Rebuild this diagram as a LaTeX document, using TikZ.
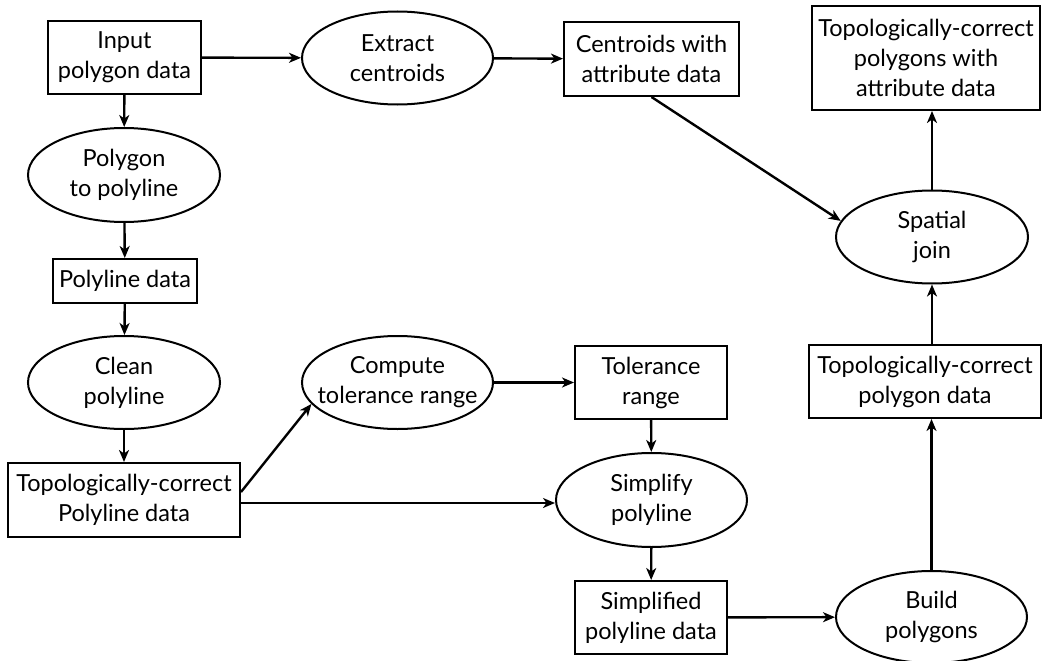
\documentclass[tikz,border=0pt]{standalone}
\usepackage{fontspec}
\setmainfont{Lato}
\usetikzlibrary{arrows.meta,shapes.geometric}

\begin{document}
\begin{tikzpicture}[x=1pt,y=-1pt,
  every node/.style={font=\fontsize{23.5}{30}\selectfont, align=center, inner sep=0pt},
  databox/.style={draw, line width=2pt, rectangle},
  process/.style={draw, line width=2pt, ellipse, inner xsep=-30pt, inner ysep=-20pt},
  flow/.style={line width=2.4pt, -{Stealth[length=12pt,width=10pt,inset=3.5pt]}}
]
\useasboundingbox (0,0) rectangle (1042,661);

% data sets
\node[databox, minimum width=153pt, minimum height=73pt] (in)  at (124.5,57.5) {Input\\polygon data};
\node[databox, minimum width=175pt, minimum height=74pt] (cen) at (651.5,59) {Centroids with\\attribute data};
\node[databox, minimum width=228pt, minimum height=104pt] (tr) at (926,58) {Topologically-correct\\polygons with\\attribute data};
\node[databox, minimum width=144pt, minimum height=44pt] (pl)  at (125,281) {Polyline data};
\node[databox, minimum width=232pt, minimum height=74pt] (tpl) at (124,500) {Topologically-correct\\Polyline data};
\node[databox, minimum width=152pt, minimum height=73pt] (tol) at (651,382.5) {Tolerance\\range};
\node[databox, minimum width=152pt, minimum height=73pt] (spd) at (651,617.5) {Simplified\\polyline data};
\node[databox, minimum width=232pt, minimum height=73pt] (tpg) at (925,381.5) {Topologically-correct\\polygon data};

% processes
\node[process, minimum width=191pt, minimum height=93pt] (ext)  at (397.5,58) {Extract\\centroids};
\node[process, minimum width=192pt, minimum height=94pt] (pp)   at (124,175) {Polygon\\to polyline};
\node[process, minimum width=192pt, minimum height=93pt] (cl)   at (124,382.5) {Clean\\polyline};
\node[process, minimum width=191pt, minimum height=93pt] (comp) at (397.5,382.5) {Compute\\tolerance range};
\node[process, minimum width=191pt, minimum height=94pt] (simp) at (651.5,500) {Simplify\\polyline};
\node[process, minimum width=192pt, minimum height=93pt] (sj)   at (932,237) {Spatial\\join};
\node[process, minimum width=191pt, minimum height=92pt] (bp)   at (931.5,617) {Build\\polygons};

% connectors
\draw[flow] (in) -- (ext);
\draw[flow] (ext) -- (cen);
\draw[flow] (cen.south) -- (sj.170);
\draw[flow] (sj.north) -- (sj.north |- tr.south);
\draw[flow] (in) -- (pp);
\draw[flow] (pp) -- (pl);
\draw[flow] (pl) -- (cl);
\draw[flow] (cl) -- (tpl);
\draw[flow] ([yshift=8pt]tpl.east) -- (comp.194);
\draw[flow] ([yshift=-3pt]tpl.east) -- ([yshift=-3pt]simp.west);
\draw[flow] (comp) -- (tol);
\draw[flow] (tol) -- (simp);
\draw[flow] (simp) -- (spd);
\draw[flow] (spd) -- (bp);
\draw[flow] (bp.north) -- (bp.north |- tpg.south);
\draw[flow] (sj.south |- tpg.north) -- (sj.south);
\end{tikzpicture}
\end{document}
